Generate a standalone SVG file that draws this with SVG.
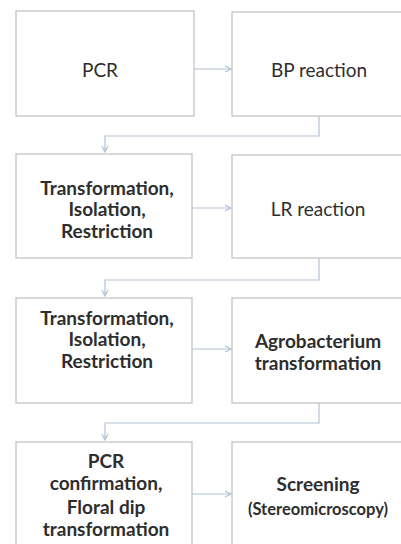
<svg xmlns="http://www.w3.org/2000/svg" width="401" height="544" viewBox="0 0 401 544">
<style>
.box{fill:#ffffff;stroke:#c4c4c4;stroke-width:1.3}
.t{font-family:Lato,"Open Sans","Liberation Sans",sans-serif;font-size:19px;fill:#2e2e2e;text-anchor:middle;dominant-baseline:central}
.b{font-weight:bold}
.s{font-size:16.5px}
.c{fill:none;stroke:#b3c1d6;stroke-width:1.2}
</style>
<defs>
<marker id="ah" markerWidth="8" markerHeight="8" refX="7" refY="4" orient="auto" markerUnits="userSpaceOnUse">
<path d="M1,1 L7,4 L1,7" fill="none" stroke="#b3c1d6" stroke-width="1.2"/>
</marker>
</defs>
<rect width="401" height="544" fill="#ffffff"/>
<g id="connectors">
<line class="c" x1="194" y1="69" x2="231" y2="69" marker-end="url(#ah)"/>
<polyline class="c" points="319,116 319,136 105,136 105,152" marker-end="url(#ah)"/>
<line class="c" x1="192" y1="208" x2="231" y2="208" marker-end="url(#ah)"/>
<polyline class="c" points="319,258 319,280 105,280 105,296" marker-end="url(#ah)"/>
<line class="c" x1="192" y1="349" x2="231" y2="349" marker-end="url(#ah)"/>
<polyline class="c" points="319,403 319,423 105,423 105,440" marker-end="url(#ah)"/>
<line class="c" x1="192" y1="494" x2="231" y2="494" marker-end="url(#ah)"/>
</g>
<g id="pcr">
<rect class="box" x="16" y="11" width="178" height="105"/>
<text class="t" x="100" y="69">PCR</text>
</g>
<g id="bp">
<rect class="box" x="232" y="12" width="180" height="104"/>
<text class="t" x="319" y="69">BP reaction</text>
</g>
<g id="tir1">
<rect class="box" x="16" y="154" width="176" height="104"/>
<text class="t b" x="107" y="187">Transformation,</text>
<text class="t b" x="107" y="208">Isolation,</text>
<text class="t b" x="107" y="230">Restriction</text>
</g>
<g id="lr">
<rect class="box" x="232" y="155" width="180" height="103"/>
<text class="t" x="318" y="208">LR reaction</text>
</g>
<g id="tir2">
<rect class="box" x="16" y="298" width="176" height="105"/>
<text class="t b" x="107" y="317">Transformation,</text>
<text class="t b" x="107" y="338">Isolation,</text>
<text class="t b" x="107" y="360">Restriction</text>
</g>
<g id="agro">
<rect class="box" x="232" y="298" width="180" height="105"/>
<text class="t b" x="318" y="340">Agrobacterium</text>
<text class="t b" x="318" y="362">transformation</text>
</g>
<g id="pcrconf">
<rect class="box" x="16" y="442" width="176" height="120"/>
<text class="t b" x="106" y="460">PCR</text>
<text class="t b" x="106" y="482">confirmation,</text>
<text class="t b" x="106" y="506">Floral dip</text>
<text class="t b" x="106" y="528">transformation</text>
</g>
<g id="screen">
<rect class="box" x="232" y="442" width="180" height="120"/>
<text class="t b" x="318" y="483">Screening</text>
<text class="t b s" x="318" y="509">(Stereomicroscopy)</text>
</g>
</svg>
